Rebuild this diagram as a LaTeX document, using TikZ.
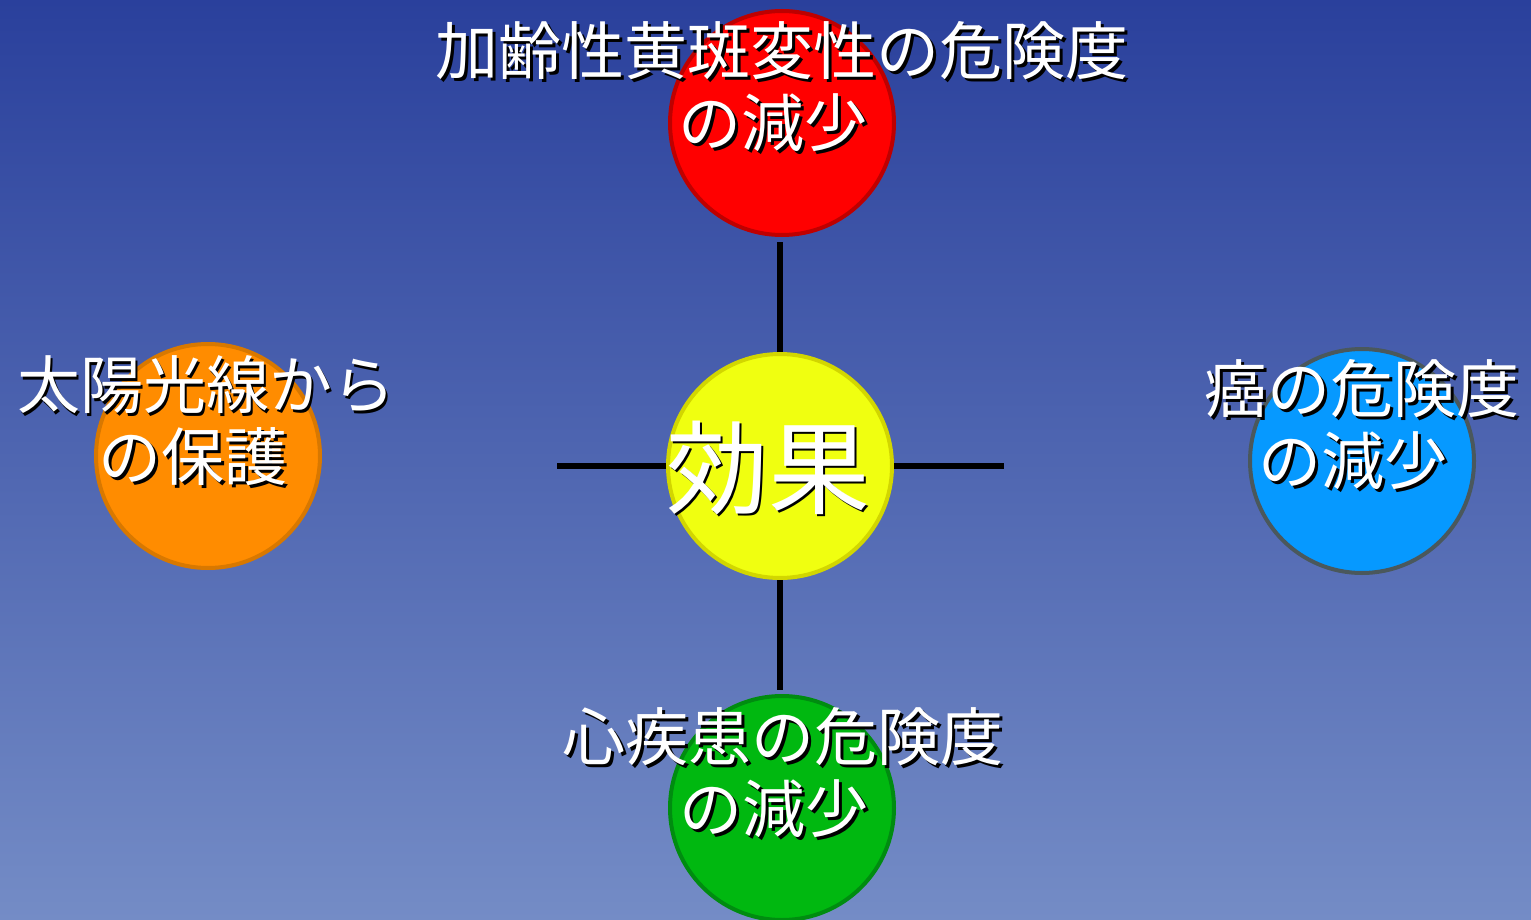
\documentclass[tikz,border=0pt]{standalone}
\usepackage{fontspec}
\newfontfamily\cjk{Noto Sans CJK JP}
\definecolor{bgtop}{RGB}{42,64,156}
\definecolor{bgbot}{RGB}{116,140,198}
\definecolor{redfill}{RGB}{255,0,0}
\definecolor{redline}{RGB}{190,0,0}
\definecolor{yelfill}{RGB}{240,255,16}
\definecolor{yelline}{RGB}{210,214,0}
\definecolor{orfill}{RGB}{255,140,0}
\definecolor{orline}{RGB}{216,120,0}
\definecolor{blfill}{RGB}{6,153,255}
\definecolor{blline}{RGB}{74,88,92}
\definecolor{grfill}{RGB}{0,184,16}
\definecolor{grline}{RGB}{0,140,16}
\tikzset{
  disc/.style={circle, minimum size=224, inner sep=0pt, line width=4pt},
  conn/.style={line width=6pt, black},
  lbl/.style={align=center, text=white, inner sep=0pt, font=\cjk\fontsize{63}{72}\selectfont},
  shd/.style={align=center, text=black, inner sep=0pt, font=\cjk\fontsize{63}{72}\selectfont},
  big/.style={font=\cjk\fontsize{102}{110}\selectfont}
}
\newcommand{\shadowtext}[4]{%
  \node[shd,#4] at ($(#2)+(2.5,2.5)$) {#3};
  \node[lbl,#4] (#1) at (#2) {#3};
}
\usetikzlibrary{calc}
\begin{document}
\begin{tikzpicture}[x=1pt,y=-1pt]
\shade[top color=bgtop, bottom color=bgbot] (0,0) rectangle (1531,920);
\useasboundingbox (0,0) rectangle (1531,920);
% circles
\node[disc, draw=redline, fill=redfill] (ctop) at (782,123) {};
\node[disc, draw=yelline, fill=yelfill] (cmid) at (780,466) {};
\node[disc, draw=orline, fill=orfill] (cleft) at (208,456) {};
\node[disc, draw=blline, fill=blfill] (cright) at (1362,461) {};
\node[disc, draw=grline, fill=grfill] (cbot) at (782,808) {};
% connector free ends
\coordinate (ttop) at (780,242);
\coordinate (tbot) at (780,690);
\coordinate (tleft) at (557,466);
\coordinate (tright) at (1004,466);
\draw[conn] (cmid.north) -- (ttop);
\draw[conn] (cmid.south) -- (tbot);
\draw[conn] (cmid.west) -- (tleft);
\draw[conn] (cmid.east) -- (tright);
% labels
\coordinate (ptop) at (782,87);
\coordinate (pmid) at (768,468);
\coordinate (pleft) at (206,421);
\coordinate (pright) at (1362,425);
\coordinate (pbot) at (783,773);
\shadowtext{ltop}{ptop}{加齢性黄斑変性の危険度\\の減少\hspace*{18pt}}{}
\shadowtext{lmid}{pmid}{効果}{big}
\shadowtext{lleft}{pleft}{太陽光線から\\の保護\hspace*{26pt}}{}
\shadowtext{lright}{pright}{癌の危険度\\の減少\hspace*{18pt}}{}
\shadowtext{lbot}{pbot}{心疾患の危険度\\の減少\hspace*{18pt}}{}
\end{tikzpicture}
\end{document}
